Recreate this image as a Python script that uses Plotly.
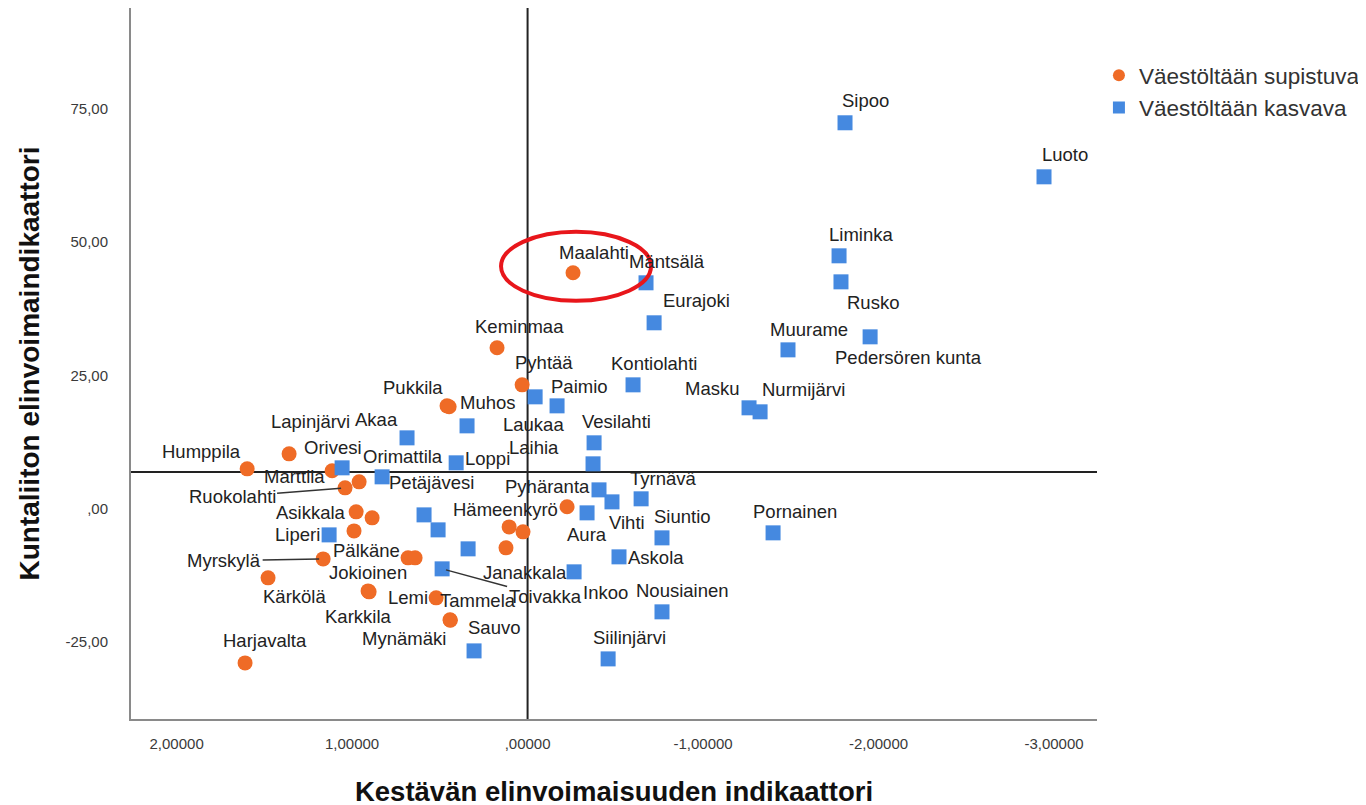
import plotly.graph_objects as go

# ---------------- data ----------------
# Väestöltään supistuva (shrinking population)
sup_names = ["Maalahti", "Keminmaa", "Pyhtää", "Pukkila", "Muhos", "Lapinjärvi", "Humppila",
             "Marttila", "Orivesi", "Ruokolahti", "Asikkala", "", "", "Myrskylä", "Pälkäne", "",
             "Kärkölä", "Jokioinen", "Karkkila", "Lemi", "Tammela", "Mynämäki", "Harjavalta",
             "Hämeenkyrö", "Pyhäranta", "", ""]
sup_x = [-0.259, 0.174, 0.031, 0.459, 0.447, 1.359, 1.598,
         1.114, 0.960, 1.040, 0.977, 0.886, 0.989, 1.165, 0.681, 0.641,
         1.479, 0.909, 0.903, 0.521, 0.442, 0.440, 1.610,
         0.105, -0.225, 0.026, 0.123]
sup_y = [44.25, 30.19, 23.25, 19.31, 19.13, 10.31, 7.50,
         7.13, 5.06, 3.94, -0.56, -1.69, -4.13, -9.38, -9.19, -9.19,
         -12.94, -15.38, -15.56, -16.69, -20.81, -20.90, -28.88,
         -3.38, 0.38, -4.31, -7.31]

# Väestöltään kasvava (growing population)
kas_names = ["Sipoo", "Luoto", "Mäntsälä", "Liminka", "Rusko", "Pedersören kunta", "Eurajoki",
             "Muurame", "Kontiolahti", "Masku", "Nurmijärvi", "Paimio", "Laukaa", "", "Akaa",
             "Vesilahti", "Laihia", "Orimattila", "Petäjävesi", "Loppi", "Liperi", "Tyrnävä", "",
             "Vihti", "Aura", "Siuntio", "Pornainen", "Askola", "Inkoo", "Janakkala", "Toivakka",
             "", "", "Nousiainen", "Siilinjärvi", "Sauvo"]
kas_x = [-1.809, -2.943, -0.675, -1.775, -1.786, -1.952, -0.721,
         -1.484, -0.601, -1.262, -1.325, -0.168, -0.043, 0.345, 0.687,
         -0.379, -0.373, 1.057, 0.829, 0.407, 1.131, -0.647, -0.407,
         -0.481, -0.339, -0.766, -1.399, -0.521, -0.265, 0.339, 0.487,
         0.590, 0.510, -0.766, -0.459, 0.305]
kas_y = [72.38, 62.25, 42.38, 47.44, 42.56, 32.25, 34.88,
         29.81, 23.25, 18.94, 18.19, 19.31, 21.00, 15.56, 13.31,
         12.38, 8.44, 7.69, 6.00, 8.63, -4.88, 1.88, 3.56,
         1.31, -0.75, -5.44, -4.50, -9.00, -11.81, -7.50, -11.25,
         -1.13, -3.94, -19.31, -28.13, -26.63]

ref_x = 0.0      # vertical reference line
ref_y = 6.9      # horizontal reference line
highlight = "Maalahti"

x_tickvals = [2, 1, 0, -1, -2, -3]
x_ticktext = ["2,00000", "1,00000", ",00000", "-1,00000", "-2,00000", "-3,00000"]
y_tickvals = [75, 50, 25, 0, -25]
y_ticktext = ["75,00", "50,00", "25,00", ",00", "-25,00"]

# ---------------- label placement (pixels: dx right, dy down) ----------------
label_offsets = {
    "Maalahti": (21, -20), "Keminmaa": (22, -21), "Pyhtää": (22, -22), "Pukkila": (-34, -18),
    "Muhos": (39, -4), "Lapinjärvi": (21, -32), "Humppila": (-46, -17), "Marttila": (-38, 6),
    "Orivesi": (-26, -34), "Asikkala": (-45, 1), "Pälkäne": (-42, -7), "Kärkölä": (26, 19),
    "Jokioinen": (0, -18), "Karkkila": (-11, 25), "Lemi": (-28, 0), "Tammela": (28, -19),
    "Mynämäki": (-46, 18), "Harjavalta": (20, -22), "Hämeenkyrö": (-4, -17), "Pyhäranta": (-20, -20),
    "Sipoo": (20, -22), "Luoto": (21, -22), "Mäntsälä": (21, -21), "Liminka": (22, -21),
    "Rusko": (32, 21), "Pedersören kunta": (38, 21), "Eurajoki": (42, -22), "Muurame": (21, -20),
    "Kontiolahti": (21, -21), "Masku": (-37, -19), "Nurmijärvi": (43, -22), "Paimio": (22, -19),
    "Laukaa": (-2, 28), "Akaa": (-31, -18), "Vesilahti": (22, -21), "Laihia": (-59, -16),
    "Orimattila": (61, -11), "Petäjävesi": (49, 6), "Loppi": (31, -4), "Liperi": (-32, 0),
    "Tyrnävä": (22, -20), "Vihti": (15, 21), "Aura": (0, 22), "Siuntio": (21, -21),
    "Pornainen": (22, -21), "Askola": (37, 1), "Inkoo": (31, 21), "Janakkala": (57, 24),
    "Nousiainen": (21, -21), "Siilinjärvi": (21, -21), "Sauvo": (20, -23),
}
leader_offsets = {"Ruokolahti": (-113, 9), "Myrskylä": (-99, 2), "Toivakka": (103, 28)}

ORANGE = "#EF6B26"
BLUE = "#4589E0"
FONT = "Liberation Sans, Arial, sans-serif"
LABEL_FONT = dict(size=18.5, color="#222222", family=FONT)

fig = go.Figure()
fig.add_trace(go.Scatter(x=sup_x, y=sup_y, mode="markers", name="Väestöltään supistuva",
                         marker=dict(symbol="circle", size=15, color=ORANGE), hovertext=sup_names))
fig.add_trace(go.Scatter(x=kas_x, y=kas_y, mode="markers", name="Väestöltään kasvava",
                         marker=dict(symbol="square", size=15, color=BLUE), hovertext=kas_names))

# reference lines
fig.add_shape(type="line", xref="x", yref="paper", x0=ref_x, x1=ref_x, y0=0, y1=1,
              line=dict(color="#222222", width=2), layer="below")
fig.add_shape(type="line", xref="paper", yref="y", x0=0, x1=1, y0=ref_y, y1=ref_y,
              line=dict(color="#222222", width=2), layer="below")

annotations = []
for names, xs, ys in ((sup_names, sup_x, sup_y), (kas_names, kas_x, kas_y)):
    for n, xv, yv in zip(names, xs, ys):
        if not n:
            continue
        if n in leader_offsets:
            ax, ay = leader_offsets[n]
            annotations.append(dict(x=xv, y=yv, text=n, showarrow=True, arrowhead=0,
                                    arrowwidth=1.5, arrowcolor="#333333", ax=ax, ay=ay,
                                    standoff=4, font=LABEL_FONT))
        elif n in label_offsets:
            dx, dy = label_offsets[n]
            annotations.append(dict(x=xv, y=yv, text=n, showarrow=False, xshift=dx, yshift=-dy,
                                    font=LABEL_FONT))
        if n == highlight:
            fig.add_shape(type="circle", xref="x", yref="y", xsizemode="pixel", ysizemode="pixel",
                          xanchor=xv, yanchor=yv, x0=-72, x1=78, y0=-28, y1=41,
                          line=dict(color="#E8161B", width=4))

fig.update_layout(
    width=1366, height=805,
    margin=dict(l=123, r=277, t=0, b=94, autoexpand=False),
    paper_bgcolor="white", plot_bgcolor="white",
    font=dict(family=FONT, color="#222222"),
    annotations=annotations,
    showlegend=True,
    legend=dict(x=1.002, xanchor="left", y=0.935, yanchor="top",
                font=dict(size=22.5, color="#333333", family=FONT),
                bgcolor="rgba(0,0,0,0)", itemsizing="constant", tracegroupgap=0),
    xaxis=dict(range=[2.26, -3.245], tickvals=x_tickvals, ticktext=x_ticktext,
               showgrid=False, zeroline=False, showline=True, linecolor="#8a8a8a", linewidth=2,
               ticks="", ticklabelstandoff=10, automargin=False,
               tickfont=dict(size=15, color="#3a3a3a", family=FONT),
               title=dict(text="Kestävän elinvoimaisuuden indikaattori", standoff=31,
                          font=dict(size=27.5, color="#111111", family="Liberation Sans, Arial", weight="bold"))),
    yaxis=dict(range=[-39.4, 93.9], tickvals=y_tickvals, ticktext=y_ticktext,
               showgrid=False, zeroline=False, showline=True, linecolor="#8a8a8a", linewidth=2,
               ticks="", ticklabelstandoff=18, automargin=False,
               tickfont=dict(size=15, color="#3a3a3a", family=FONT),
               title=dict(text="Kuntaliiton elinvoimaindikaattori", standoff=18,
                          font=dict(size=28, color="#111111", family="Liberation Sans, Arial", weight="bold"))),
)

fig.write_html("out.html")
